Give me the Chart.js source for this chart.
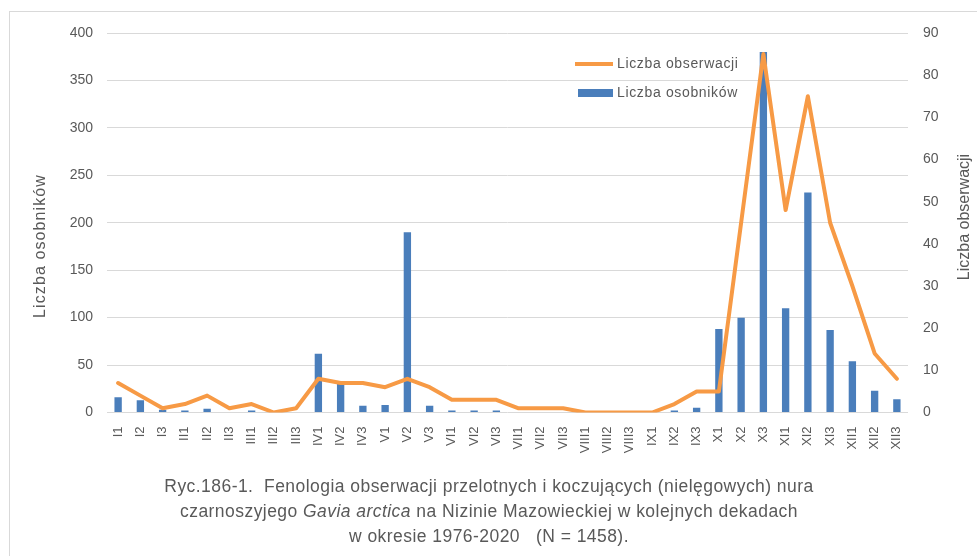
<!DOCTYPE html>
<html>
<head>
<meta charset="utf-8">
<script src="https://cdn.jsdelivr.net/npm/chart.js@4/dist/chart.umd.min.js"></script>
<style>
  html, body { margin: 0; padding: 0; background: #ffffff; }
  #wrap { position: relative; width: 977px; height: 556px; overflow: hidden; background: #fff; }
  #frame { position: absolute; left: 9px; top: 11px; width: 1000px; height: 600px; border: 1px solid #d9d9d9; box-sizing: border-box; }
  #c { position: absolute; left: 0; top: 0; }
  #caption { position: absolute; left: 0; top: 474px; width: 978px; text-align: center;
    font-family: "Liberation Sans", Arial, sans-serif; font-size: 17.5px; letter-spacing: 0.45px;
    line-height: 25px; color: #595959; }
</style>
</head>
<body>
<div id="wrap">
  <div id="frame"></div>
  <canvas id="c" width="977" height="556"></canvas>
  <div id="caption">Ryc.186-1.&nbsp; Fenologia obserwacji przelotnych i koczujących (nielęgowych) nura<br>czarnoszyjego <i>Gavia arctica</i> na Nizinie Mazowieckiej w kolejnych dekadach<br>w okresie 1976-2020 &nbsp;&nbsp;(N = 1458).</div>
</div>
<script>
// ---- data ----
const categories = ["I1","I2","I3","II1","II2","II3","III1","III2","III3","IV1","IV2","IV3","V1","V2","V3","VI1","VI2","VI3","VII1","VII2","VII3","VIII1","VIII2","VIII3","IX1","IX2","IX3","X1","X2","X3","XI1","XI2","XI3","XII1","XII2","XII3"];
const individuals = [16,13,3,2,4,0,2,0,0,62,31,7,8,190,7,2,2,2,0,0,0,0,0,0,0,2,5,88,100,380,110,232,87,54,23,14];
const observations = [7,4,1,2,4,1,2,0,1,8,7,7,6,8,6,3,3,3,1,1,1,0,0,0,0,2,5,5,45,85,48,75,45,30,14,8];
const leftTicks = [0,50,100,150,200,250,300,350,400];
const rightTicks = [0,10,20,30,40,50,60,70,80,90];
const seriesNames = ["Liczba obserwacji", "Liczba osobników"];
const axisTitles = { left: "Liczba osobników", right: "Liczba obserwacji" };

const ORANGE = '#f79a45';
const BLUE = '#4a7ebb';
const TXT = '#595959';
const FONT = '"Liberation Sans", Arial, sans-serif';

const extras = {
  id: 'extras',
  afterDraw(chart) {
    const ctx = chart.ctx;
    ctx.save();
    ctx.fillStyle = TXT;
    ctx.textBaseline = 'middle';
    // legend
    ctx.font = '14px ' + FONT;
    ctx.letterSpacing = '0.65px';
    ctx.strokeStyle = ORANGE;
    ctx.lineWidth = 4;
    ctx.beginPath(); ctx.moveTo(575, 64); ctx.lineTo(613, 64); ctx.stroke();
    ctx.textAlign = 'left';
    ctx.fillText(seriesNames[0], 617, 64);
    ctx.fillStyle = BLUE;
    ctx.fillRect(578, 89, 35, 8);
    ctx.fillStyle = TXT;
    ctx.fillText(seriesNames[1], 617, 93);
    // axis titles (rotated, reading bottom-to-top)
    ctx.textAlign = 'center';
    ctx.font = '16px ' + FONT;
    ctx.letterSpacing = '1.1px';
    ctx.save(); ctx.translate(41, 246); ctx.rotate(-Math.PI / 2);
    ctx.fillText(axisTitles.left, 0, 0); ctx.restore();
    ctx.letterSpacing = '0px';
    ctx.save(); ctx.translate(965, 217); ctx.rotate(-Math.PI / 2);
    ctx.fillText(axisTitles.right, 0, 0); ctx.restore();
    ctx.restore();
  }
};

new Chart(document.getElementById('c'), {
  data: {
    labels: categories,
    datasets: [
      { type: 'line', label: seriesNames[0], data: observations, yAxisID: 'y1',
        borderColor: ORANGE, backgroundColor: ORANGE, borderWidth: 4, pointRadius: 0,
        tension: 0, borderJoinStyle: 'round', borderCapStyle: 'round', order: 0 },
      { type: 'bar', label: seriesNames[1], data: individuals, yAxisID: 'y',
        backgroundColor: BLUE, borderWidth: 0, categoryPercentage: 1, barPercentage: 0.33, order: 1 }
    ]
  },
  options: {
    responsive: false,
    animation: false,
    layout: { padding: { left: 0, right: 0, top: 33, bottom: 0 } },
    plugins: { legend: { display: false }, tooltip: { enabled: false } },
    scales: {
      x: {
        grid: { display: false },
        border: { display: false },
        ticks: { autoSkip: false, minRotation: 90, maxRotation: 90, padding: 6,
          color: TXT, font: { family: FONT, size: 13 } },
        afterFit(s) { s.height = 143.5; }
      },
      y: {
        position: 'left', min: 0, max: 400,
        afterBuildTicks(s) { s.ticks = leftTicks.map(v => ({ value: v })); },
        grid: { color: '#d9d9d9', lineWidth: 1, drawTicks: false },
        border: { display: false },
        ticks: { padding: 14, color: TXT, font: { family: FONT, size: 14 } },
        afterFit(s) { s.width = 107; }
      },
      y1: {
        position: 'right', min: 0, max: 90,
        afterBuildTicks(s) { s.ticks = rightTicks.map(v => ({ value: v })); },
        grid: { display: false, drawTicks: false },
        border: { display: false },
        ticks: { padding: 15, color: TXT, font: { family: FONT, size: 14 } },
        afterFit(s) { s.width = 69; }
      }
    }
  },
  plugins: [extras]
});
</script>
</body>
</html>
